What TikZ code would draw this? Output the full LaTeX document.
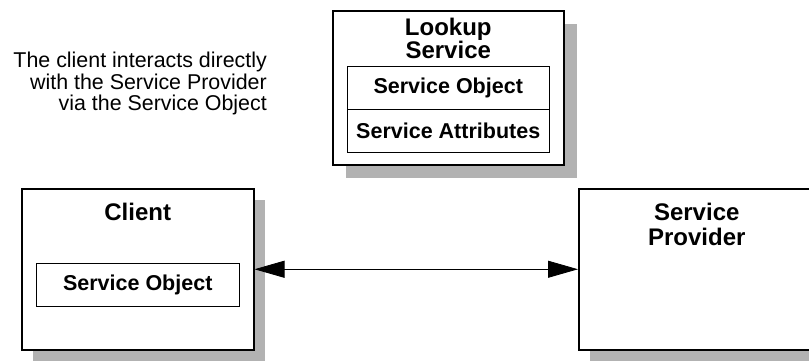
\documentclass[tikz,border=0pt]{standalone}
\usepackage{fontspec}
\setmainfont{Liberation Sans}
\usetikzlibrary{shadows,arrows.meta,positioning}

\begin{document}
\begin{tikzpicture}
  [x=1pt,y=-1pt,
 outer/.style={
  rectangle,
  line width=1.5pt, % border
  draw=black,
  fill=white,
  inner sep=0pt,
  anchor=north west,
  drop shadow={shadow xshift=#1,shadow yshift=-#1,fill=black!30,opacity=1}},
 outer/.default=11pt,
 part/.style={
  rectangle,
  line width=1.2pt,
  draw=black,
  fill=white,
  inner sep=0pt,
  minimum height=43pt,
  font=\fontsize{21.5}{22}\selectfont\bfseries},
 title/.style={
  align=center,
  inner sep=0pt,
  font=\fontsize{24}{#1}\selectfont\bfseries},
 title/.default=25pt,
 note/.style={
  align=right,
  inner sep=0pt,
  font=\fontsize{21.4}{21.5}\selectfont},
 tip/.style={{Triangle[length=30pt,width=17pt]}-{Triangle[length=30pt,width=17pt]},line width=0.8pt}]
\useasboundingbox (0,0) rectangle (809,360);
% lookup service with its entry
\node (lookup) [outer=13pt,minimum width=231pt,minimum height=154pt] at (332,10) {};
\node (lookuptitle) [title=21pt,below=8pt of lookup.north] {Lookup\\Service};
\node (lookupobj) [part,minimum width=202pt,below=56pt of lookup.north] {Service Object};
\node (lookupattr) [part,minimum width=202pt,below=-1.2pt of lookupobj] {Service Attributes};
% client and provider
\node (client) [outer,minimum width=232pt,minimum height=161pt] at (21,188) {};
\node (clienttitle) [title,below=14.5pt of client.north] {Client};
\node (clientobj) [part,minimum width=203pt,below=75pt of client.north] {Service Object};
\node (provider) [outer,minimum width=236pt,minimum height=161pt] at (578,188) {};
\node (providertitle) [title,below=14.5pt of provider.north] {Service\\Provider};
\node (remark) [note,anchor=north east] at (267,52) {The client interacts directly\\with the Service Provider\\via the Service Object};
\path (client) edge[tip] (provider);
\end{tikzpicture}
\end{document}
